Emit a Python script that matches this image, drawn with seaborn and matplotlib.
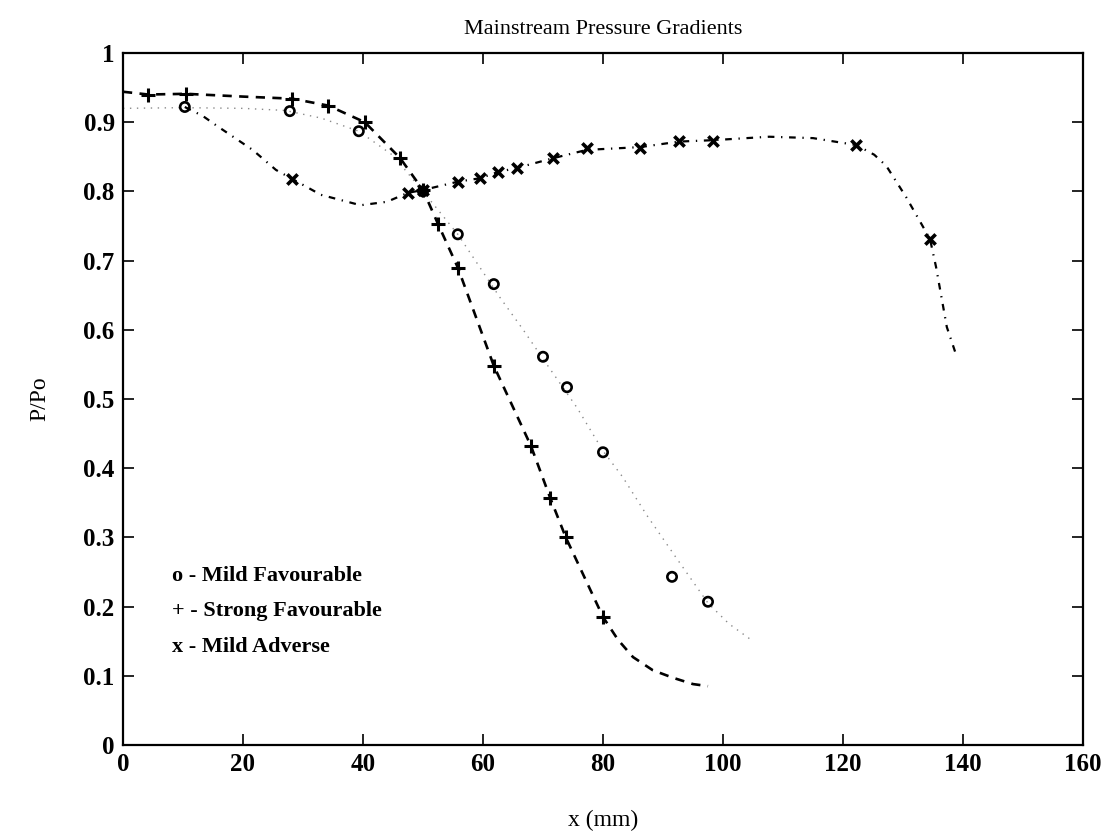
import matplotlib
matplotlib.use("Agg")
import matplotlib.pyplot as plt
import seaborn as sns
import numpy as np

# ---- data ----
# measured points (markers)
mf_x = [10.3, 27.8, 39.3, 50.0, 55.8, 61.8, 70.0, 74.0, 80.0, 91.5, 97.5]
mf_y = [0.922, 0.916, 0.887, 0.800, 0.738, 0.666, 0.561, 0.517, 0.423, 0.243, 0.207]

sf_x = [4.2, 10.5, 28.2, 34.2, 40.3, 46.2, 50.0, 52.5, 55.8, 61.8, 68.0, 71.2, 73.8, 80.0]
sf_y = [0.940, 0.941, 0.934, 0.924, 0.900, 0.848, 0.802, 0.753, 0.690, 0.548, 0.432, 0.357, 0.300, 0.185]

ma_x = [28.2, 47.5, 50.0, 55.8, 59.5, 62.5, 65.7, 71.7, 77.3, 86.2, 92.7, 98.3, 122.2, 134.5]
ma_y = [0.818, 0.798, 0.802, 0.814, 0.819, 0.828, 0.834, 0.848, 0.863, 0.863, 0.873, 0.873, 0.867, 0.731]

# fitted curves
mf_cx = [0.0, 10.0, 20.0, 27.0, 33.0, 39.3, 45.0, 50.0, 55.8, 62.8, 66.7, 70.0, 75.7, 80.0, 83.3, 87.3, 92.0, 97.5, 101.0, 105.0]
mf_cy = [0.920, 0.921, 0.920, 0.917, 0.906, 0.887, 0.852, 0.800, 0.738, 0.647, 0.600, 0.558, 0.487, 0.425, 0.387, 0.332, 0.273, 0.205, 0.175, 0.150]

sf_cx = [0.0, 4.2, 10.5, 20.0, 28.2, 34.2, 40.3, 46.2, 50.0, 52.5, 55.8, 61.8, 68.0, 71.2, 73.8, 80.0, 82.5, 85.0, 88.3, 91.7, 95.0, 97.5]
sf_cy = [0.944, 0.940, 0.941, 0.937, 0.934, 0.924, 0.900, 0.848, 0.802, 0.753, 0.690, 0.548, 0.432, 0.357, 0.300, 0.185, 0.152, 0.127, 0.108, 0.097, 0.088, 0.085]

ma_cx = [10.3, 13.3, 15.6, 21.6, 25.5, 28.2, 33.0, 39.6, 44.0, 47.5, 50.0, 55.8, 59.5, 62.5, 65.7, 71.7, 77.3, 86.2, 92.7, 98.3, 107.7, 115.0, 122.2, 125.2, 127.2, 130.5, 133.0, 134.5, 135.5, 137.3, 139.0]
ma_cy = [0.922, 0.909, 0.895, 0.860, 0.831, 0.818, 0.795, 0.780, 0.785, 0.798, 0.802, 0.814, 0.819, 0.828, 0.834, 0.848, 0.860, 0.864, 0.872, 0.874, 0.879, 0.877, 0.867, 0.853, 0.837, 0.792, 0.754, 0.731, 0.691, 0.604, 0.560]

x_ticks = [0, 20, 40, 60, 80, 100, 120, 140, 160]
y_ticks = [0, 0.1, 0.2, 0.3, 0.4, 0.5, 0.6, 0.7, 0.8, 0.9, 1.0]
y_tick_labels = ["0", "0.1", "0.2", "0.3", "0.4", "0.5", "0.6", "0.7", "0.8", "0.9", "1"]

title = "Mainstream Pressure Gradients"
xlabel = "x (mm)"
ylabel = "P/Po"
legend_lines = ["o - Mild Favourable", "+ - Strong Favourable", "x - Mild Adverse"]

# ---- style ----
sns.set_theme(style="ticks")
plt.rcParams["font.family"] = ["Liberation Serif", "DejaVu Serif"]
plt.rcParams["text.color"] = "black"
plt.rcParams["axes.labelcolor"] = "black"
plt.rcParams["xtick.color"] = "black"
plt.rcParams["ytick.color"] = "black"
plt.rcParams["xtick.direction"] = "in"
plt.rcParams["ytick.direction"] = "in"

fig = plt.figure(figsize=(11.04, 8.32), dpi=100)
ax = fig.add_axes([0.1114, 0.1046, 0.8696, 0.8317])

# curves
sns.lineplot(x=mf_cx, y=mf_cy, ax=ax, sort=False, estimator=None,
             color="#8a8a8a", linewidth=1.0, linestyle=(0, (1, 4)))
sns.lineplot(x=sf_cx, y=sf_cy, ax=ax, sort=False, estimator=None,
             color="black", linewidth=1.9, linestyle=(0, (3.5, 2.8)))
sns.lineplot(x=ma_cx, y=ma_cy, ax=ax, sort=False, estimator=None,
             color="black", linewidth=1.6, linestyle=(0, (3, 3, 0.6, 3)))

# markers
sns.scatterplot(x=mf_x, y=mf_y, ax=ax, marker="o", s=45,
                facecolors="none", edgecolors="black", linewidth=1.9, zorder=5)
sns.scatterplot(x=sf_x, y=sf_y, ax=ax, marker="+", s=100,
                color="black", linewidth=2.2, zorder=5)
sns.scatterplot(x=ma_x, y=ma_y, ax=ax, marker="x", s=55,
                color="black", linewidth=2.6, zorder=5)

ax.set_xlim(0, 160)
ax.set_ylim(0, 1)
ax.set_xticks(x_ticks)
ax.set_xticklabels([str(t) for t in x_ticks])
ax.set_yticks(y_ticks)
ax.set_yticklabels(y_tick_labels)
ax.tick_params(axis="both", which="both", direction="in", length=8, width=1.2,
               top=True, right=True, labelsize=18, colors="black",
               labelcolor="black", pad=6)
for lab in ax.get_xticklabels() + ax.get_yticklabels():
    lab.set_fontweight("bold")
for sp in ax.spines.values():
    sp.set_linewidth(1.6)
    sp.set_color("black")

ax.set_title(title, fontsize=16, pad=14, color="black")
ax.set_xlabel(xlabel, fontsize=17, labelpad=24, color="black")
ax.set_ylabel(ylabel, fontsize=17, labelpad=24, color="black")

for i, txt in enumerate(legend_lines):
    ax.text(0.051, 0.244 - i * 0.051, txt, transform=ax.transAxes,
            fontsize=16, fontweight="bold", color="black",
            va="center", ha="left")

fig.savefig("out.png", dpi=100)
